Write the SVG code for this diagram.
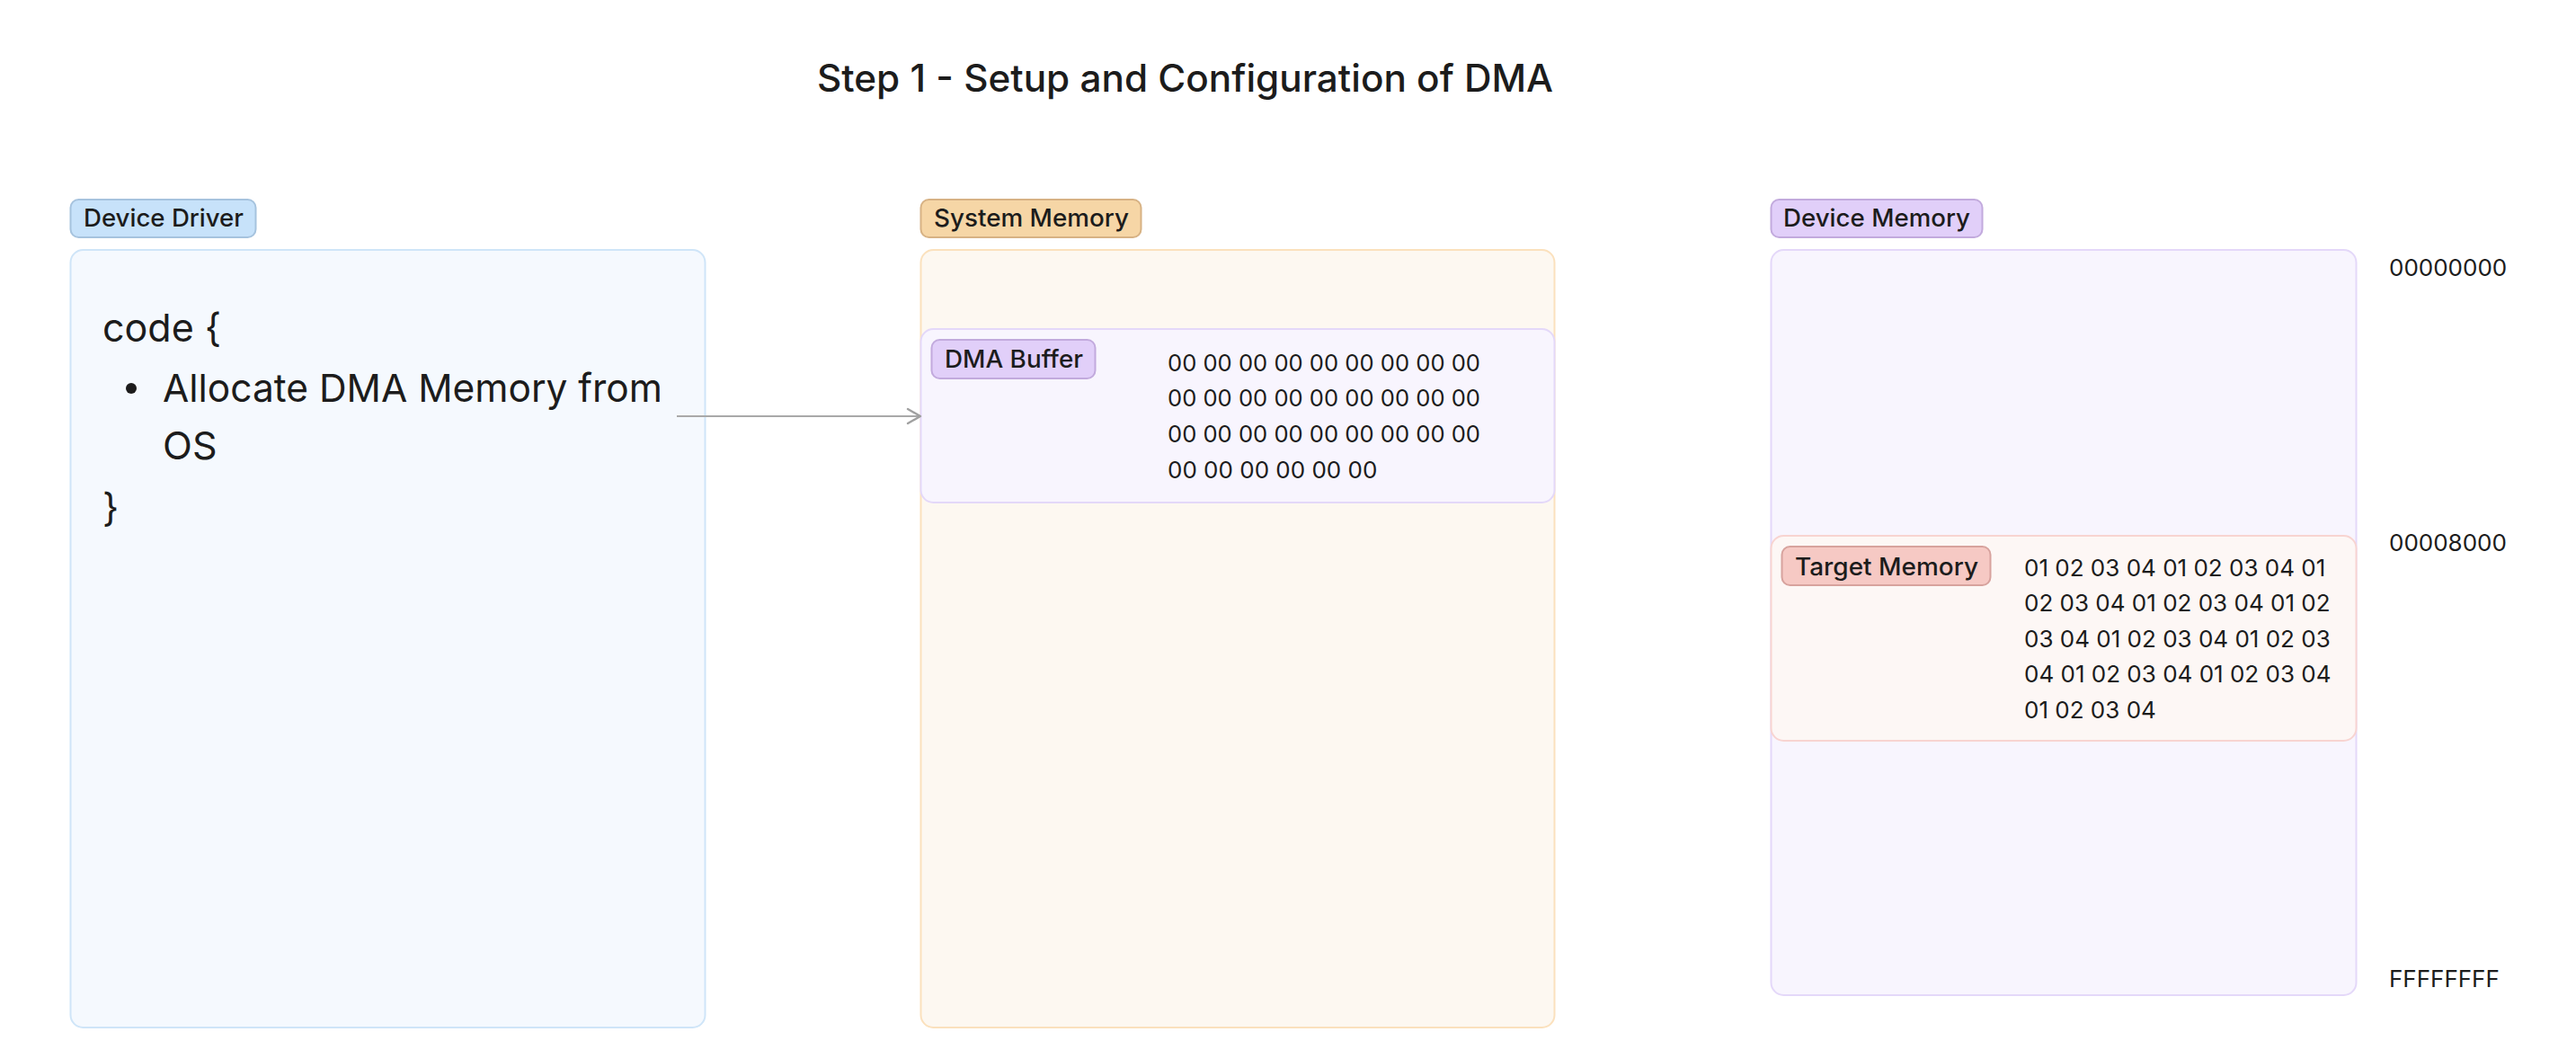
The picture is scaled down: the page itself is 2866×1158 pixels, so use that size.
<svg xmlns="http://www.w3.org/2000/svg" width="2866" height="1158" viewBox="0 0 2866 1158">
<style>
text{font-family:Inter,"Noto Sans","Liberation Sans",sans-serif;fill:#1c1c1c}
.title{font-size:42px;font-weight:450}
.lbl{font-size:27px;font-weight:500}
.code{font-size:43px}
.hex{font-size:26px}
.con{stroke-width:2}
</style>
<defs>
<marker id="arr" viewBox="0 0 22 22" refX="19" refY="11" markerWidth="22" markerHeight="22" markerUnits="userSpaceOnUse" orient="auto">
<path d="M5 3 L19 11 L5 19" fill="none" stroke="#a0a0a0" stroke-width="2.4" stroke-linecap="round" stroke-linejoin="round"/>
</marker>
</defs>
<rect width="2866" height="1158" fill="#ffffff"/>
<text class="title" x="909" y="102" textLength="819" lengthAdjust="spacingAndGlyphs">Step 1 - Setup and Configuration of DMA</text>

<g id="device-driver">
<rect x="78.5" y="278" width="706" height="865" rx="14" fill="#f5f9fe" stroke="#cfe5f8" stroke-width="2"/>
<rect x="78.5" y="222" width="206" height="42" rx="9" fill="#c7e2fa" stroke="#a6c3de" stroke-width="2"/>
<text class="lbl" x="93" y="252" textLength="178" lengthAdjust="spacingAndGlyphs">Device Driver</text>
<text class="code" x="114" y="380">code {</text>
<circle cx="146" cy="432" r="6" fill="#1c1c1c"/>
<text class="code" x="181" y="447" textLength="556" lengthAdjust="spacingAndGlyphs">Allocate DMA Memory from</text>
<text class="code" x="181" y="511">OS</text>
<text class="code" x="114" y="580">}</text>
</g>

<g id="system-memory">
<rect x="1024.5" y="278" width="705" height="865" rx="14" fill="#fdf8f1" stroke="#fbe1bd" stroke-width="2"/>
<rect x="1024.5" y="222" width="245" height="42" rx="9" fill="#f6d6a6" stroke="#d7b284" stroke-width="2"/>
<text class="lbl" x="1039" y="252" textLength="217" lengthAdjust="spacingAndGlyphs">System Memory</text>
</g>

<g id="dma-buffer">
<rect x="1024.5" y="366" width="705" height="193" rx="14" fill="#f8f5fe" stroke="#e4d8f9" stroke-width="2"/>
<rect x="1036.5" y="378" width="182" height="43" rx="9" fill="#e1cff9" stroke="#c2aadd" stroke-width="2"/>
<text class="lbl" x="1051" y="409" textLength="154" lengthAdjust="spacingAndGlyphs">DMA Buffer</text>
<text class="hex" x="1299" y="413" textLength="348" lengthAdjust="spacingAndGlyphs">00 00 00 00 00 00 00 00 00</text>
<text class="hex" x="1299" y="452" textLength="348" lengthAdjust="spacingAndGlyphs">00 00 00 00 00 00 00 00 00</text>
<text class="hex" x="1299" y="492" textLength="348" lengthAdjust="spacingAndGlyphs">00 00 00 00 00 00 00 00 00</text>
<text class="hex" x="1299" y="532">00 00 00 00 00 00</text>
</g>

<g id="device-memory">
<rect x="1970.5" y="278" width="651" height="829" rx="14" fill="#f8f5fe" stroke="#e4d8f9" stroke-width="2"/>
<rect x="1970.5" y="222" width="235" height="42" rx="9" fill="#e1cff9" stroke="#c2aadd" stroke-width="2"/>
<text class="lbl" x="1984" y="252" textLength="208" lengthAdjust="spacingAndGlyphs">Device Memory</text>
</g>

<g id="target-memory">
<rect x="1970.5" y="596" width="651" height="228" rx="14" fill="#fdf7f5" stroke="#f8d4d1" stroke-width="2"/>
<rect x="1982.5" y="608" width="232" height="43" rx="9" fill="#f6c9c4" stroke="#d7a29d" stroke-width="2"/>
<text class="lbl" x="1997" y="640" textLength="204" lengthAdjust="spacingAndGlyphs">Target Memory</text>
<text class="hex" x="2252" y="641">01 02 03 04 01 02 03 04 01</text>
<text class="hex" x="2252" y="680">02 03 04 01 02 03 04 01 02</text>
<text class="hex" x="2252" y="720">03 04 01 02 03 04 01 02 03</text>
<text class="hex" x="2252" y="759">04 01 02 03 04 01 02 03 04</text>
<text class="hex" x="2252" y="799">01 02 03 04</text>
</g>

<g id="addresses">
<text class="hex" x="2658" y="307">00000000</text>
<text class="hex" x="2658" y="613">00008000</text>
<text class="hex" x="2658" y="1098">FFFFFFFF</text>
</g>

<g id="connectors">
<path class="con" d="M753 463 L1024 463" fill="none" stroke="#a9a9a9" marker-end="url(#arr)"/>
</g>
</svg>
